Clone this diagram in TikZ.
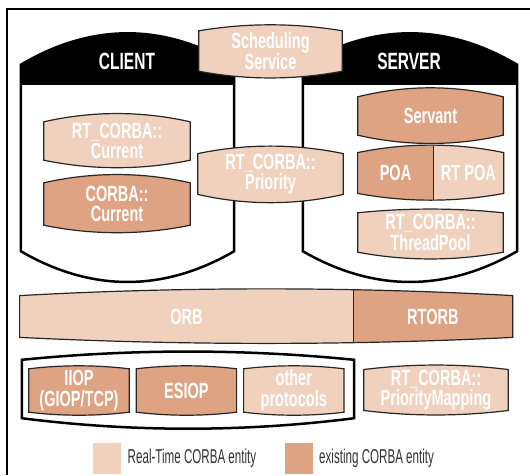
\documentclass[tikz,border=0pt]{standalone}
\usepackage{fontspec}
\setmainfont{Liberation Sans}
\newfontfamily\labelfont[FakeStretch=0.66]{Liberation Sans}
\newfontfamily\keyfont[FakeStretch=0.58]{Liberation Sans}
\usetikzlibrary{%
    backgrounds,
    calc,
    fit,
    positioning
}
\definecolor{rtcorba}{RGB}{240,209,189}
\definecolor{corba}{RGB}{221,163,130}
\definecolor{keygray}{RGB}{51,51,51}
\tikzset{
    entity/.style   = {inner sep=0pt, minimum width=145pt, minimum height=38pt,
                       align=center, text=white,
                       font=\labelfont\bfseries\fontsize{22}{20.5}\selectfont},
    boxtitle/.style = {text=white, font=\labelfont\bfseries\fontsize{23.5}{23.5}\selectfont},
    keylabel/.style = {text=keygray, font=\keyfont\fontsize{20}{20}\selectfont},
    keybox/.style   = {inner sep=0pt, minimum width=28pt, minimum height=31pt},
    boxline/.style  = {draw=black!85, line width=1.2pt},
    wallline/.style = {draw=black, line width=2.5pt}
}
% barrel round a node: #1 node, #2 and #3 pull of the top and bottom curve
\newcommand{\entbarrel}[3]{%
    (#1.north west)
    .. controls ($(#1.north west)!.33!(#1.north east)+(0,-#2)$)
            and ($(#1.north west)!.67!(#1.north east)+(0,-#2)$) .. (#1.north east)
    -- (#1.south east)
    .. controls ($(#1.south west)!.67!(#1.south east)+(0,#3)$)
            and ($(#1.south west)!.33!(#1.south east)+(0,#3)$) .. (#1.south west)
    -- cycle}

\begin{document}
\begin{tikzpicture}[x=1pt, y=-1pt]
    \useasboundingbox (0,0) rectangle (530,475);
    \draw[wallline] (530,9) -- (7,9) -- (7,475);

    % client and server
    \node (client) [inner sep=0pt, minimum width=213pt, minimum height=186pt] at (127.5,158) {};
    \node (server) [inner sep=0pt, minimum width=214pt, minimum height=186pt] at (410,158) {};
    \node (cltitle) [boxtitle] at (127,61) {CLIENT};
    \node (svtitle) [boxtitle] at (409,61) {SERVER};

    \node (sched) [entity, minimum width=143pt, minimum height=40pt] at (270.5,51) {Scheduling\\Service};
    \node (prio) [entity] at (270.5,174) {RT\_CORBA::\\Priority};
    \node (rtcur) [entity, minimum width=146pt] at (117,141) {RT\_CORBA::\\Current};
    \node (cur) [entity, minimum width=146pt, minimum height=42pt] at (117,204) {CORBA::\\Current};
    \node (servant) [entity] at (430.5,116) {Servant};
    \node (poa) [entity, minimum width=75pt, minimum height=40pt] at (395.5,173) {POA};
    \node (rtpoa) [entity, minimum width=70pt, minimum height=40pt, right=0pt of poa] {RT POA};
    \node (tpool) [entity, minimum height=39pt] at (430.5,232.5) {RT\_CORBA::\\ThreadPool};

    % orb and protocols
    \node (orb) [entity, minimum width=333pt, minimum height=41pt] at (186.5,316.5) {ORB};
    \node (rtorb) [entity, minimum width=159pt, minimum height=41pt, right=0pt of orb] {RTORB};
    \node (proto) [inner sep=0pt, minimum width=332pt, minimum height=58pt] at (188,389) {};
    \node (iiop) [entity, minimum width=100pt, minimum height=43pt] at (79,390.5) {IIOP\\(GIOP/TCP)};
    \node (esiop) [entity, minimum width=100pt, minimum height=43pt, right=7pt of iiop] {ESIOP};
    \node (other) [entity, minimum width=100pt, minimum height=43pt, right=7pt of esiop] {other\\protocols};
    \node (pmap) [entity, minimum width=144pt, minimum height=40pt] at (436,390) {RT\_CORBA::\\PriorityMapping};

    \node (poabar) [inner sep=0pt, fit=(poa)(rtpoa)] {};
    \node (orbbar) [inner sep=0pt, fit=(orb)(rtorb)] {};

    % key
    \node (keyrt) [keybox, fill=rtcorba] at (107,458) {};
    \node (keyrttext) [keylabel, right=3pt of keyrt] {Real-Time CORBA entity};
    \node (keyold) [keybox, fill=corba] at (298.5,458) {};
    \node (keyoldtext) [keylabel, right=3pt of keyold] {existing CORBA entity};

    \begin{scope}[on background layer]
        \foreach \Box in {client, server}
            {
                \filldraw[wallline, fill=white] \entbarrel{\Box}{42}{41};
                \fill (\Box.north west)
                    .. controls ($(\Box.north west)!.33!(\Box.north east)+(0,-42)$)
                            and ($(\Box.north west)!.67!(\Box.north east)+(0,-42)$) .. (\Box.north east)
                    -- ++(0,20) -- ($(\Box.north west)+(0,20)$) -- cycle;
            }
        \filldraw[wallline, fill=white] \entbarrel{proto}{11}{14};

        \foreach \Name/\Fill/\Top/\Bottom in {%
            sched/rtcorba/8/9,
            prio/rtcorba/10/11,
            rtcur/rtcorba/11/10,
            cur/corba/11/10,
            servant/corba/12/11,
            tpool/rtcorba/5/9,
            iiop/corba/4/4,
            esiop/corba/4/4,
            other/rtcorba/4/4,
            pmap/rtcorba/6/6%
        }
            \filldraw[boxline, fill=\Fill] \entbarrel{\Name}{\Top}{\Bottom};

        \foreach \Bar/\Part/\Top/\Bottom in {%
            poabar/poa/10/9,
            orbbar/rtorb/9/8%
        }
            {
                \fill[rtcorba] \entbarrel{\Bar}{\Top}{\Bottom};
                \begin{scope}
                    \clip \entbarrel{\Bar}{\Top}{\Bottom};
                    \filldraw[boxline, fill=corba] ($(\Part.north west)+(0,-20)$) rectangle ($(\Part.south east)+(0,20)$);
                \end{scope}
                \draw[boxline] \entbarrel{\Bar}{\Top}{\Bottom};
            }
    \end{scope}
\end{tikzpicture}
\end{document}
